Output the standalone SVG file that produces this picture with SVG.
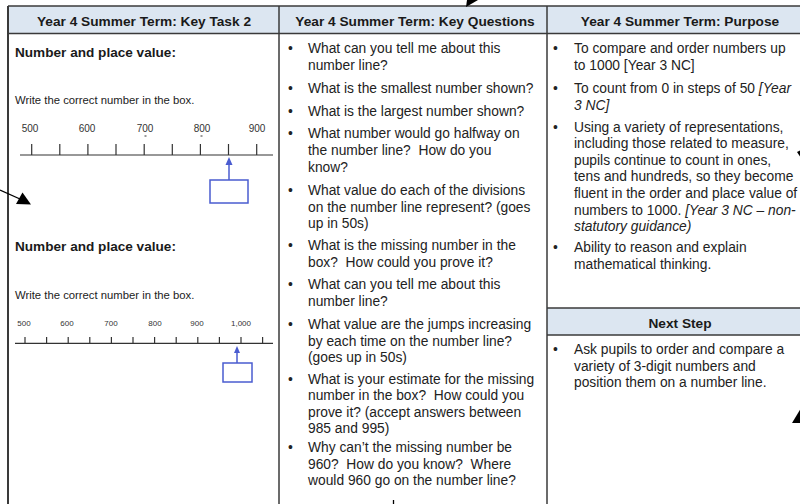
<svg xmlns="http://www.w3.org/2000/svg" width="800" height="504" viewBox="0 0 800 504">
<style>
  text { white-space: pre; }
  .hdr { fill: #dce6f1; }
  .bd { stroke: #3a3a3a; stroke-width: 1.5; fill: none; }
  .ht { font-family: "Liberation Sans", Arial, sans-serif; font-weight: bold; font-size: 13.7px; fill: #1a1a1a; text-anchor: middle; }
  .sub { font-family: "Liberation Sans", Arial, sans-serif; font-weight: bold; font-size: 13.6px; fill: #1a1a1a; }
  .tx { font-family: "Liberation Sans", Arial, sans-serif; font-size: 13.8px; fill: #222; }
  .it { font-style: italic; }
  .sm { font-family: "Liberation Sans", Arial, sans-serif; font-size: 11.3px; fill: #222; }
  .n1 { font-family: "Liberation Sans", Arial, sans-serif; font-size: 10px; fill: #333; text-anchor: middle; }
  .n2 { font-family: "Liberation Sans", Arial, sans-serif; font-size: 8px; fill: #333; text-anchor: middle; }
  .ax { stroke: #333; stroke-width: 1.2; fill: none; }
  .bl { stroke: #4a5cd0; stroke-width: 1.5; fill: none; }
  .blf { fill: #4a5cd0; }
  .arw { stroke: #000; stroke-width: 1.3; fill: none; }
  .ah { fill: #000; }
</style>
<rect width="800" height="504" fill="#fff"/>

<g id="table">
  <rect class="hdr" x="8" y="6" width="806" height="27"/>
  <rect class="hdr" x="547" y="308" width="267" height="27"/>
  <line class="bd" x1="8" y1="6" x2="814" y2="6"/>
  <line class="bd" x1="8" y1="33.5" x2="814" y2="33.5"/>
  <line class="bd" x1="8" y1="6" x2="8" y2="504" style="stroke-width:2"/>
  <line class="bd" x1="279" y1="6" x2="279" y2="504"/>
  <line class="bd" x1="547" y1="6" x2="547" y2="504"/>
  <line class="bd" x1="547" y1="308" x2="814" y2="308"/>
  <line class="bd" x1="547" y1="335" x2="814" y2="335"/>
</g>

<g id="key-task">
  <text class="ht" x="144" y="26">Year 4 Summer Term: Key Task 2</text>
  <text class="sub" x="15" y="57">Number and place value:</text>
  <text class="sm" x="15" y="104">Write the correct number in the box.</text>
  <g id="numberline-1">
    <text class="n1" x="30" y="132">500</text>
    <text class="n1" x="87" y="132">600</text>
    <text class="n1" x="145" y="132">700</text>
    <text class="n1" x="202" y="132">800</text>
    <text class="n1" x="257" y="132">900</text>
    <rect x="144.5" y="135" width="2" height="2" fill="#999"/>
    <rect x="200.5" y="135" width="2" height="2" fill="#999"/>
    <line class="ax" x1="20" y1="155" x2="273" y2="155"/>
    <path class="ax" d="M31.7 144V155M59.8 144V155M87.9 144V155M116 144V155M144.2 144V155M172.3 144V155M200.4 144V155M228.5 144V155M256.7 144V155"/>
    <line class="bl" x1="229" y1="180" x2="229" y2="164"/>
    <path class="blf" d="M229 157L225.5 165H232.5Z"/>
    <rect class="bl" x="210" y="180" width="38" height="23"/>
  </g>
  <text class="sub" x="15" y="251">Number and place value:</text>
  <text class="sm" x="15" y="299">Write the correct number in the box.</text>
  <g id="numberline-2">
    <text class="n2" x="24" y="326">500</text>
    <text class="n2" x="67" y="326">600</text>
    <text class="n2" x="111" y="326">700</text>
    <text class="n2" x="155" y="326">800</text>
    <text class="n2" x="197" y="326">900</text>
    <text class="n2" x="241" y="326">1,000</text>
    <line class="ax" x1="15" y1="343.3" x2="273" y2="343.3"/>
    <path class="ax" d="M25 337V343M46.6 337V343M68.2 337V343M89.8 337V343M111.4 337V343M133 337V343M154.6 337V343M176.2 337V343M197.8 337V343M219.4 337V343M241 337V343M262.6 337V343"/>
    <line class="bl" x1="237" y1="363" x2="237" y2="352"/>
    <path class="blf" d="M237 346L234 353H240Z"/>
    <rect class="bl" x="223" y="363" width="29" height="19"/>
  </g>
</g>

<g id="key-questions">
  <text class="ht" x="415" y="26">Year 4 Summer Term: Key Questions</text>
  <g class="tx">
    <text x="288" y="53">•</text>
    <text x="308" y="53">What can you tell me about this</text>
    <text x="308" y="70">number line?</text>
    <text x="288" y="93">•</text>
    <text x="308" y="93">What is the smallest number shown?</text>
    <text x="288" y="116">•</text>
    <text x="308" y="116">What is the largest number shown?</text>
    <text x="288" y="138">•</text>
    <text x="308" y="138">What number would go halfway on</text>
    <text x="308" y="155">the number line?  How do you</text>
    <text x="308" y="172">know?</text>
    <text x="288" y="195">•</text>
    <text x="308" y="195">What value do each of the divisions</text>
    <text x="308" y="212">on the number line represent? (goes</text>
    <text x="308" y="228">up in 50s)</text>
    <text x="288" y="250">•</text>
    <text x="308" y="250">What is the missing number in the</text>
    <text x="308" y="267">box?  How could you prove it?</text>
    <text x="288" y="289">•</text>
    <text x="308" y="289">What can you tell me about this</text>
    <text x="308" y="306">number line?</text>
    <text x="288" y="329">•</text>
    <text x="308" y="329">What value are the jumps increasing</text>
    <text x="308" y="346">by each time on the number line?</text>
    <text x="308" y="362">(goes up in 50s)</text>
    <text x="288" y="384">•</text>
    <text x="308" y="384">What is your estimate for the missing</text>
    <text x="308" y="400">number in the box?  How could you</text>
    <text x="308" y="417">prove it? (accept answers between</text>
    <text x="308" y="433">985 and 995)</text>
    <text x="288" y="452">•</text>
    <text x="308" y="452">Why can’t the missing number be</text>
    <text x="308" y="469">960?  How do you know?  Where</text>
    <text x="308" y="485">would 960 go on the number line?</text>
  </g>
</g>

<g id="purpose">
  <text class="ht" x="680" y="26">Year 4 Summer Term: Purpose</text>
  <g class="tx">
    <text x="553" y="53">•</text>
    <text x="574" y="53">To compare and order numbers up</text>
    <text x="574" y="70">to 1000 [Year 3 NC]</text>
    <text x="553" y="93">•</text>
    <text x="574" y="93">To count from 0 in steps of 50 <tspan class="it">[Year</tspan></text>
    <text x="574" y="110" class="it">3 NC]</text>
    <text x="553" y="132">•</text>
    <text x="574" y="132">Using a variety of representations,</text>
    <text x="574" y="148">including those related to measure,</text>
    <text x="574" y="165">pupils continue to count in ones,</text>
    <text x="574" y="181">tens and hundreds, so they become</text>
    <text x="574" y="198">fluent in the order and place value of</text>
    <text x="574" y="215">numbers to 1000. <tspan class="it">[Year 3 NC – non-</tspan></text>
    <text x="574" y="231" class="it">statutory guidance)</text>
    <text x="553" y="252">•</text>
    <text x="574" y="252">Ability to reason and explain</text>
    <text x="574" y="269">mathematical thinking.</text>
  </g>
</g>

<g id="next-step">
  <text class="ht" x="680" y="328">Next Step</text>
  <g class="tx">
    <text x="553" y="354">•</text>
    <text x="574" y="354">Ask pupils to order and compare a</text>
    <text x="574" y="371">variety of 3-digit numbers and</text>
    <text x="574" y="387">position them on a number line.</text>
  </g>
</g>

<g id="connectors">
  <line class="arw" x1="0" y1="190" x2="20" y2="199"/>
  <path class="ah" d="M31 204.5L22.5 192.5L16 204Z"/>
  <path class="ah" d="M466 7L467 0H478Z"/>
  <path class="ah" d="M797 152L801 150V158Z"/>
  <path class="ah" d="M792 423L801 408V423Z"/>
  <line class="arw" x1="393.5" y1="500" x2="393.5" y2="504"/>
</g>
</svg>
